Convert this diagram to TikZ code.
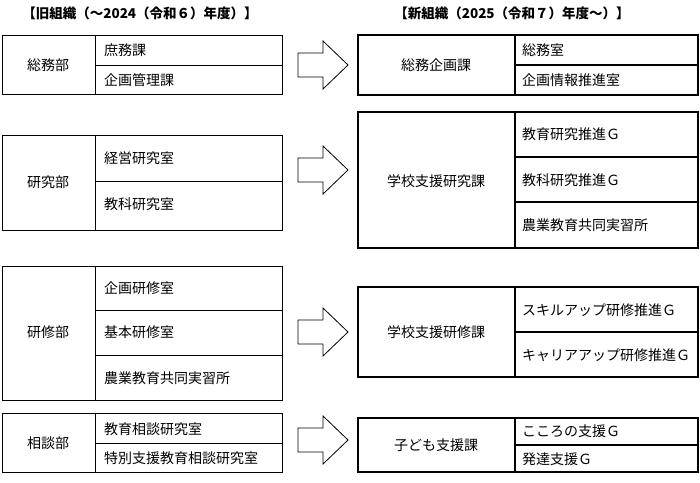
\documentclass[tikz,border=0pt]{standalone}
\usepackage{fontspec}
\newfontfamily\jp{Noto Sans CJK JP}
\begin{document}
\begin{tikzpicture}[x=1pt,y=-1pt,font=\jp\fontsize{14}{16}\selectfont,
 lbox/.style={draw,line width=0.6pt},
 rbox/.style={draw,line width=1.3pt},
 blk/.style={draw,line width=0.8pt,fill=white},
 txt/.style={inner sep=0pt,anchor=west},
 ctxt/.style={inner sep=0pt}]
\useasboundingbox (0,0) rectangle (700,482);
\node[ctxt,font=\jp\bfseries\fontsize{13.5}{15}\selectfont] (h1) at (140,13) {【旧組織（～2024（令和６）年度）】};
\node[ctxt,font=\jp\bfseries\fontsize{13.5}{15}\selectfont] (h2) at (512,13) {【新組織（2025（令和７）年度～）】};
\newcommand\blockarrow[1]{\draw[blk] (298,#1-12) -- (323,#1-12) -- (323,#1-24) -- (348,#1) -- (323,#1+24) -- (323,#1+12) -- (298,#1+12) -- cycle;}
% group 1
\draw[lbox] (2,35) rectangle (282,94); \draw[lbox] (95,35) -- (95,94); \draw[lbox] (95,65) -- (282,65);
\node[ctxt] (a0) at (48,65) {総務部};
\node[txt] (a1) at (104,50) {庶務課};
\node[txt] (a2) at (104,80) {企画管理課};
\blockarrow{65}
\draw[rbox] (358,35) rectangle (698,95); \draw[rbox] (515,35) -- (515,95); \draw[rbox] (515,65) -- (698,65);
\node[ctxt] (b0) at (436,65) {総務企画課};
\node[txt] (b1) at (522,50) {総務室};
\node[txt] (b2) at (522,80) {企画情報推進室};
% group 2
\draw[lbox] (2,135) rectangle (282,230); \draw[lbox] (95,135) -- (95,230); \draw[lbox] (95,181) -- (282,181);
\node[ctxt] (c0) at (48,182) {研究部};
\node[txt] (c1) at (104,158) {経営研究室};
\node[txt] (c2) at (104,204) {教科研究室};
\blockarrow{170}
\draw[rbox] (358,112) rectangle (698,248); \draw[rbox] (515,112) -- (515,248); \draw[rbox] (515,157) -- (698,157); \draw[rbox] (515,202) -- (698,202);
\node[ctxt] (d0) at (436,181) {学校支援研究課};
\node[txt] (d1) at (522,134) {教育研究推進Ｇ};
\node[txt] (d2) at (522,180) {教科研究推進Ｇ};
\node[txt] (d3) at (522,225) {農業教育共同実習所};
% group 3
\draw[lbox] (2,266) rectangle (282,400); \draw[lbox] (95,266) -- (95,400); \draw[lbox] (95,310) -- (282,310); \draw[lbox] (95,355) -- (282,355);
\node[ctxt] (e0) at (48,332) {研修部};
\node[txt] (e1) at (104,288) {企画研修室};
\node[txt] (e2) at (104,332) {基本研修室};
\node[txt] (e3) at (104,378) {農業教育共同実習所};
\blockarrow{332}
\draw[rbox] (358,287) rectangle (698,377); \draw[rbox] (515,287) -- (515,377); \draw[rbox] (515,332) -- (698,332);
\node[ctxt] (f0) at (436,332) {学校支援研修課};
\node[txt] (f1) at (522,310) {スキルアップ研修推進Ｇ};
\node[txt] (f2) at (522,355) {キャリアアップ研修推進Ｇ};
% group 4
\draw[lbox] (2,413) rectangle (282,472); \draw[lbox] (95,413) -- (95,472); \draw[lbox] (95,443) -- (282,443);
\node[ctxt] (g0) at (48,443) {相談部};
\node[txt] (g1) at (104,429) {教育相談研究室};
\node[txt] (g2) at (104,458) {特別支援教育相談研究室};
\blockarrow{440}
\draw[rbox] (358,418) rectangle (698,472); \draw[rbox] (515,418) -- (515,472); \draw[rbox] (515,445) -- (698,445);
\node[ctxt] (h0) at (436,445) {子ども支援課};
\node[txt] (h1) at (522,431) {こころの支援Ｇ};
\node[txt] (h2) at (522,459) {発達支援Ｇ};
\end{tikzpicture}
\end{document}
